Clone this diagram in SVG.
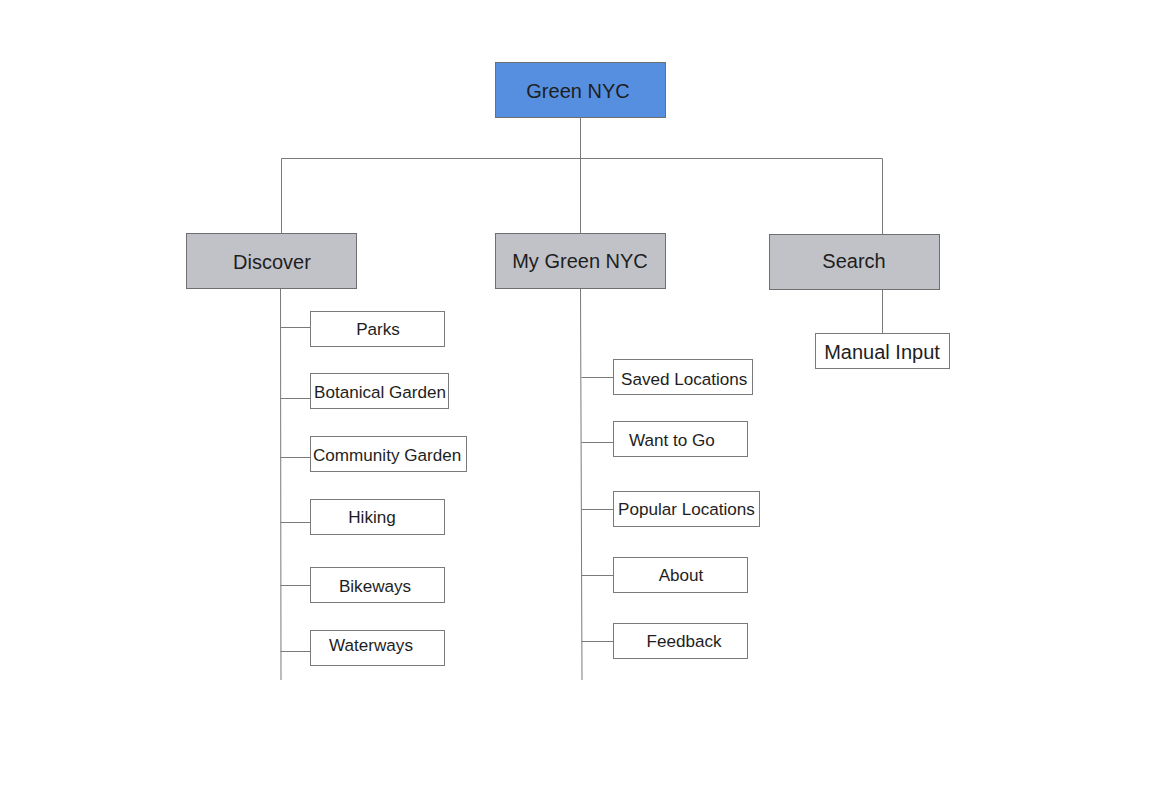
<svg xmlns="http://www.w3.org/2000/svg" width="1164" height="800" viewBox="0 0 1164 800">
<style>
.bx{fill:#fff;stroke:#7a7a7a;stroke-width:1}
.top{fill:#568fe0;stroke:#6f6f6f;stroke-width:1}
.gr{fill:#c0c2c8;stroke:#6f6f6f;stroke-width:1}
.ln{stroke:#7a7a7a;stroke-width:1;fill:none}
text{font-family:"Liberation Sans",Arial,sans-serif;fill:#1e1e1e}
.t1{font-size:20px;text-anchor:middle}
.t2{font-size:17.1px}
.c{text-anchor:middle}
</style>
<rect width="1164" height="800" fill="#fff"/>
<g id="connectors">
<path class="ln" d="M580.5 117.5V233.5M281.5 158.5H882.5M281.5 158.5V233.5M882.5 158.5V234.5M882.5 289.5V333.5"/>
<path class="ln" d="M280.5 288.5L281 680M280.5 327.5H310.5M280.5 398.5H310.5M280.5 457.5H310.5M280.5 522.5H310.5M280.5 585.5H310.5M280.5 651.5H310.5"/>
<path class="ln" d="M580.5 288.5L582 680M581.5 377.5H613.5M581.5 442.5H613.5M581.5 509.5H613.5M581.5 575.5H613.5M581.5 641.5H613.5"/>
</g>
<g id="green-nyc"><rect class="top" x="495.5" y="62.5" width="170" height="55"/><text class="t1" x="578" y="98">Green NYC</text></g>
<g id="discover"><rect class="gr" x="186.5" y="233.5" width="170" height="55"/><text class="t1" x="272" y="269">Discover</text></g>
<g id="my-green-nyc"><rect class="gr" x="495.5" y="233.5" width="170" height="55"/><text class="t1" x="580" y="268">My Green NYC</text></g>
<g id="search"><rect class="gr" x="769.5" y="234.5" width="170" height="55"/><text class="t1" x="854" y="268">Search</text></g>
<g id="manual-input"><rect class="bx" x="815.5" y="333.5" width="134" height="35"/><text class="t1" x="882" y="359">Manual Input</text></g>
<g id="parks"><rect class="bx" x="310.5" y="311.5" width="134" height="35"/><text class="t2 c" x="378" y="335">Parks</text></g>
<g id="botanical-garden"><rect class="bx" x="310.5" y="373.5" width="138" height="35"/><text class="t2" x="314" y="398">Botanical Garden</text></g>
<g id="community-garden"><rect class="bx" x="310.5" y="436.5" width="156" height="35"/><text class="t2" x="313" y="461">Community Garden</text></g>
<g id="hiking"><rect class="bx" x="310.5" y="499.5" width="134" height="35"/><text class="t2 c" x="372" y="523">Hiking</text></g>
<g id="bikeways"><rect class="bx" x="310.5" y="567.5" width="134" height="35"/><text class="t2 c" x="375" y="592">Bikeways</text></g>
<g id="waterways"><rect class="bx" x="310.5" y="630.5" width="134" height="35"/><text class="t2 c" x="371" y="651">Waterways</text></g>
<g id="saved-locations"><rect class="bx" x="613.5" y="359.5" width="139" height="35"/><text class="t2" x="621" y="385">Saved Locations</text></g>
<g id="want-to-go"><rect class="bx" x="613.5" y="421.5" width="134" height="35"/><text class="t2" x="629" y="446">Want to Go</text></g>
<g id="popular-locations"><rect class="bx" x="613.5" y="491.5" width="146" height="35"/><text class="t2" x="618" y="515">Popular Locations</text></g>
<g id="about"><rect class="bx" x="613.5" y="557.5" width="134" height="35"/><text class="t2 c" x="681" y="581">About</text></g>
<g id="feedback"><rect class="bx" x="613.5" y="623.5" width="134" height="35"/><text class="t2 c" x="684" y="647">Feedback</text></g>
</svg>
